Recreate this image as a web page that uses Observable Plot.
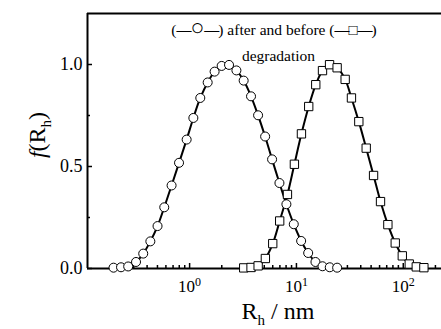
<!DOCTYPE html>
<html><head><meta charset="utf-8">
<script src="https://cdn.jsdelivr.net/npm/d3@7"></script>
<script src="https://cdn.jsdelivr.net/npm/@observablehq/plot@0.6"></script>
<style>body{margin:0;background:#fff} svg, svg text{font-family:"Liberation Serif","Times New Roman",serif !important}</style>
</head><body><div id="c"></div><script>
// "after degradation" (circles)
const afterR = [0.194,0.228,0.266,0.315,0.368,0.429,0.501,0.579,0.678,0.796,0.938,1.084,1.259,1.476,1.714,1.995,2.339,2.742,3.206,3.758,4.375,5.093,5.916,6.934,8.054,9.441,11.07,12.88,15.07,17.54,20.51,24.04];
const afterF = [0.004,0.006,0.010,0.032,0.073,0.133,0.208,0.300,0.407,0.518,0.632,0.738,0.836,0.912,0.965,0.993,0.998,0.971,0.921,0.844,0.751,0.647,0.535,0.419,0.315,0.217,0.135,0.076,0.032,0.011,0.006,0.004];
// "before degradation" (squares)
const beforeR = [3.21,3.76,4.38,5.12,6.00,6.97,8.24,9.57,11.14,13.03,15.17,17.54,20.42,24.04,28.58,32.73,38.37,44.98,52.72,61.24,71.78,84.14,97.95,113.8,132.4,156.0];
const beforeF = [0.003,0.005,0.013,0.049,0.122,0.233,0.363,0.511,0.660,0.794,0.901,0.970,0.999,0.984,0.927,0.836,0.720,0.590,0.456,0.328,0.215,0.125,0.062,0.022,0.008,0.004];

const xDomain = [0.1107, 228];
const yDomain = [0, 1.25];
const xMajor = [1, 10, 100];
const xMinor = [0.2,0.3,0.4,0.5,0.6,0.7,0.8,0.9,2,3,4,5,6,7,8,9,20,30,40,50,60,70,80,90,200];
const yMajor = [0, 0.5, 1.0];
const yMinor = [0.25, 0.75];
const legendParts = [["(", 0], ["\u2014", 1], ["\u25CB", 2], ["\u2014", 1], [") after and before (", 0], ["\u2014", 1], ["\u25A1", 3], ["\u2014", 1], [")", 0]];
const legendText2 = "degradation";

const after = afterR.map((r, i) => ({r, f: afterF[i]}));
const before = beforeR.map((r, i) => ({r, f: beforeF[i]}));

const plot = Plot.plot({
  width: 441, height: 329,
  marginLeft: 87, marginTop: 13, marginBottom: 61, marginRight: 0,
  style: {fontFamily: '"Liberation Serif","Times New Roman",serif', background: "white", overflow: "visible", color: "black"},
  x: {type: "log", domain: xDomain},
  y: {domain: yDomain},
  marks: [
    Plot.axisX(xMinor, {tickSize: -3, text: null, label: null, strokeWidth: 1.5}),
    Plot.axisX(xMajor, {tickSize: -5, text: null, label: null, strokeWidth: 1.5}),
    Plot.axisX(xMajor, {tickSize: 0, tickPadding: 11, tickFormat: d => "10" + Math.round(Math.log10(d)), label: null, fontSize: 17}),
    Plot.axisY(yMinor, {tickSize: -3, text: null, label: null, strokeWidth: 1.5}),
    Plot.axisY(yMajor, {tickSize: -5, text: null, label: null, strokeWidth: 1.5}),
    Plot.axisY(yMajor, {tickSize: 0, tickPadding: 5, tickFormat: d => d.toFixed(1), label: null, fontSize: 18}),
    Plot.ruleY([yDomain[1]], {strokeWidth: 2}),
    Plot.ruleY([0], {strokeWidth: 2}),
    Plot.ruleX([xDomain[0]], {strokeWidth: 2}),
    Plot.line(after, {x: "r", y: "f", curve: "catmull-rom", strokeWidth: 2}),
    Plot.line(before, {x: "r", y: "f", curve: "catmull-rom", strokeWidth: 2}),
    Plot.dot(after, {x: "r", y: "f", r: 4.5, fill: "white", stroke: "black", strokeWidth: 1}),
    Plot.dot(before, {x: "r", y: "f", r: 4.7, symbol: "square", fill: "white", stroke: "black", strokeWidth: 1}),
    Plot.text([legendText2], {frameAnchor: "top", dx: 14, dy: 36, fontSize: 15.5, textAnchor: "middle"})
  ]
});
document.getElementById("c").appendChild(plot);

const svg = d3.select(plot);
// superscript exponents on x tick labels
svg.selectAll("[aria-label='x-axis tick label'] text").each(function() {
  const t = d3.select(this);
  const s = t.text();
  if (!s || s.length < 3) return;
  const exp = s.slice(2);
  t.text("10");
  t.append("tspan").attr("font-size", 12).attr("dy", "-0.5em").text(exp);
});
// legend line
const lg = svg.append("text").attr("x", 274).attr("y", 35).attr("text-anchor", "middle").attr("font-size", 15.5).attr("fill", "black");
legendParts.forEach(([s, k]) => {
  const ts = lg.append("tspan").text(s);
  if (k === 1) ts.attr("font-weight", "bold").attr("font-size", 15).attr("letter-spacing", -1);
  if (k === 2) ts.attr("font-size", 23);
  if (k === 3) ts.attr("font-size", 15);
});
// axis titles with subscripts
const xl = svg.append("text").attr("x", 278).attr("y", 319).attr("text-anchor", "middle").attr("font-size", 24).attr("fill", "black");
xl.append("tspan").text("R");
xl.append("tspan").attr("font-size", 15).attr("dy", 6).text("h");
xl.append("tspan").attr("dy", -6).text(" / nm");
const yl = svg.append("text").attr("transform", "translate(45,135) rotate(-90)").attr("text-anchor", "middle").attr("font-size", 24).attr("fill", "black");
yl.append("tspan").attr("font-style", "italic").text("f");
yl.append("tspan").text("(R");
yl.append("tspan").attr("font-size", 15).attr("dy", 6).text("h");
yl.append("tspan").attr("dy", -6).text(")");
</script></body></html>
